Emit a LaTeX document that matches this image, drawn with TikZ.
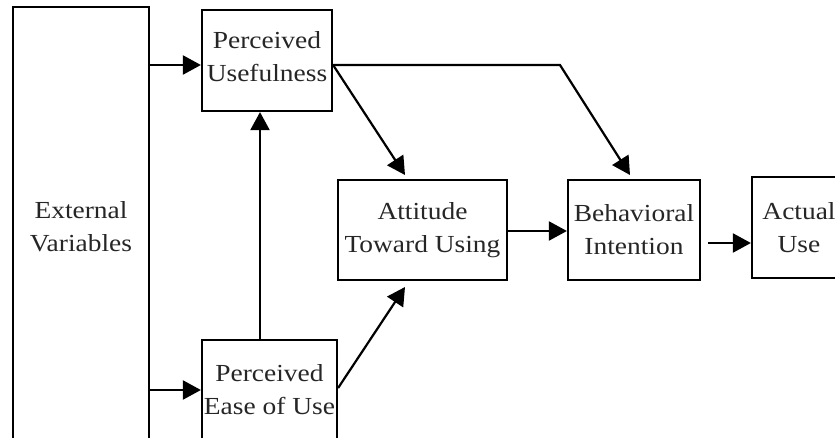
\documentclass[tikz,border=0pt]{standalone}
\usepackage{fontspec}
\setmainfont[FakeStretch=1.12]{Liberation Serif}
\usetikzlibrary{arrows.meta,calc}
\begin{document}
\begin{tikzpicture}[x=1pt,y=-1pt,
  box/.style={draw,line width=2.2pt,rectangle,inner sep=0pt,align=center,
    font=\fontsize{24.5}{33}\selectfont,text=black!85},
  arr/.style={line width=2.2pt,-{Triangle[length=18pt,width=19pt]}}]
\useasboundingbox (0,0) rectangle (835,437);
\clip (0,0) rectangle (835,437);
\node[box,minimum width=136pt,minimum height=440pt] (EV) at (81,227) {External\\Variables};
\node[box,minimum width=130pt,minimum height=101pt] (PU) at (267,60.5) {Perceived\\Usefulness\\[-24pt]};
\node[box,minimum width=135pt,minimum height=100pt] (PEOU) at (269.5,390) {Perceived\\Ease of Use};
\node[box,minimum width=169pt,minimum height=100pt] (ATT) at (422.5,230) {Attitude\\Toward Using};
\node[box,minimum width=132pt,minimum height=100pt] (BI) at (634,230) {Behavioral\\Intention};
\node[box,minimum width=94pt,minimum height=101pt,text width=94pt] (AU) at (799,227.5) {Actual\\Use};
\coordinate (y65) at (0,65);
\coordinate (y390) at (0,390);
\coordinate (x260) at (260,0);
\coordinate (y231) at (0,231);
\coordinate (y243) at (0,243);
\coordinate (pubend) at (560,65);
\coordinate (attTip) at (405,175);
\coordinate (biTip) at (630,175);
\coordinate (attTip2) at (405,287);
\coordinate (biStart) at (708,243);
\draw[arr] (EV.east |- y65) -- (PU.west |- y65);
\draw[arr] (EV.east |- y390) -- (PEOU.west |- y390);
\draw[arr] (PEOU.north -| x260) -- (PU.south -| x260);
\draw[arr] (PU.east |- y65) -- (attTip);
\draw[arr] (PU.east |- y65) -- (pubend) -- (biTip);
\draw[arr] ($(PEOU.east)+(0,-2)$) -- (attTip2);
\draw[arr] (ATT.east |- y231) -- (BI.west |- y231);
\draw[arr] (biStart) -- (AU.west |- y243);
\end{tikzpicture}
\end{document}
